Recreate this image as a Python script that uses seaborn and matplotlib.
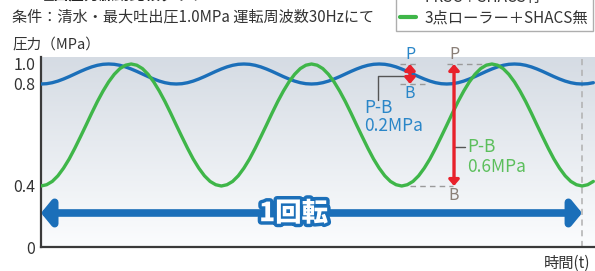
import numpy as np
import pandas as pd
import matplotlib.pyplot as plt
import matplotlib.patheffects as pe
from matplotlib.lines import Line2D
import seaborn as sns

# --- Data ---
# time axis in degrees of one rotation, sampled every 3.75 deg
angle = [i * 3.75 for i in range(99)]

# 3-roller + SHACS off: big swing 0.4 -> 1.0 MPa, 3 pulses per rotation
green_period = [0.400, 0.405, 0.418, 0.440, 0.470, 0.506, 0.548, 0.593,
                0.639, 0.686, 0.731, 0.772, 0.821, 0.897, 0.954, 0.988,
                1.000, 0.988, 0.954, 0.897, 0.821, 0.772, 0.731, 0.686,
                0.639, 0.593, 0.548, 0.506, 0.470, 0.440, 0.418, 0.405]
pressure_green = (green_period * 4)[:99]

# PRSC + SHACS on: small swing 0.8 -> 1.0 MPa, 4 pulses per rotation
blue_period = [0.800, 0.803, 0.813, 0.829, 0.850, 0.874, 0.900, 0.926,
               0.950, 0.971, 0.987, 0.997, 1.000, 0.997, 0.987, 0.971,
               0.950, 0.926, 0.900, 0.874, 0.850, 0.829, 0.813, 0.803]
pressure_blue = (blue_period * 5)[:99]

series_labels = ['PRSC＋SHACS有', '3点ローラー＋SHACS無']
ytick_values = [0, 0.4, 0.8, 1.0]
ytick_labels = ['0', '0.4', '0.8', '1.0']

df = pd.DataFrame({
    'angle': angle * 2,
    'pressure': pressure_blue + pressure_green,
    'series': [series_labels[0]] * 99 + [series_labels[1]] * 99,
})

BLUE = '#1b6fb9'
GREEN = '#3fb649'
RED = '#e8212b'
GREY = '#9a9a9a'
TXT = '#333333'
LBLUE = '#2a86c8'

sns.set_style('white')
plt.rcParams['font.family'] = ['Noto Sans CJK JP', 'DejaVu Sans']

fig = plt.figure(figsize=(5.95, 2.71), dpi=100)
ax = fig.add_axes([41 / 595, 24 / 271, 554 / 595, 190 / 271])


# broken (piecewise linear) pressure axis as drawn in the brochure
def fwd(v):
    v = np.asarray(v, dtype=float)
    return np.where(v < 0.4, v / 0.4 * 61,
                    np.where(v < 0.8, 61 + (v - 0.4) / 0.4 * 102,
                             163 + (v - 0.8) / 0.2 * 20))


def inv(p):
    p = np.asarray(p, dtype=float)
    return np.where(p < 61, p / 61 * 0.4,
                    np.where(p < 163, 0.4 + (p - 61) / 102 * 0.4,
                             0.8 + (p - 163) / 20 * 0.2))


ax.set_yscale('function', functions=(fwd, inv))

# background gradient
grad = np.linspace(0, 1, 256).reshape(-1, 1)
top = np.array([0.835, 0.860, 0.892])
bot = np.array([0.985, 0.99, 0.995])
img = bot + (top - bot) * grad
ax.imshow(img[:, None, :].repeat(2, axis=1), extent=[0, 1, 0, 1],
          transform=ax.transAxes, aspect='auto', origin='lower', zorder=0)

sns.lineplot(data=df, x='angle', y='pressure', hue='series',
             palette=[BLUE, GREEN], linewidth=2.4, legend=False, ax=ax,
             zorder=3)

ax.set_xlim(0, 368.6)
ax.set_ylim(0, 1.07)
ax.set_yticks(ytick_values)
ax.set_yticklabels(ytick_labels)
ax.set_xticks([])
ax.set_xlabel('')
ax.set_ylabel('')
ax.tick_params(axis='y', length=0, pad=4, labelsize=11.5, labelcolor=TXT)
for s in ['top', 'right']:
    ax.spines[s].set_visible(False)
for s in ['left', 'bottom']:
    ax.spines[s].set_color('#3a3a3a')
    ax.spines[s].set_linewidth(1.6)

# one rotation marker
ax.axvline(360, color='#b0b0b0', ls=(0, (4, 3)), lw=1.1, zorder=2)
ax.annotate('', xy=(360, 0.223), xytext=(0, 0.223),
            arrowprops=dict(arrowstyle='<|-|>,head_length=0.45,head_width=0.55',
                            color=BLUE, lw=5.5, shrinkA=0, shrinkB=0,
                            mutation_scale=14), zorder=4)
ax.text(168, 0.223, '1回転', ha='center', va='center', fontsize=19,
        fontweight='heavy', color='white', zorder=5,
        path_effects=[pe.withStroke(linewidth=5, foreground=BLUE)])

dash = dict(color=GREY, ls=(0, (4, 3)), lw=1.0, zorder=2)

# P-B for blue series
ax.plot([239, 250], [1.0, 1.0], **dash)
ax.plot([239, 257], [0.8, 0.8], **dash)
ax.annotate('', xy=(245.5, 1.0), xytext=(245.5, 0.8),
            arrowprops=dict(arrowstyle='<|-|>,head_length=0.35,head_width=0.3',
                            color=RED, lw=2.4, shrinkA=0, shrinkB=0,
                            mutation_scale=10), zorder=6)
ax.plot([245.5, 224, 224], [0.88, 0.88, 0.737], color='#555555', lw=1.0, zorder=5)
ax.annotate('P', xy=(245.5, 1.0), xytext=(0, 7), textcoords='offset points',
            ha='center', va='center', fontsize=11.5, color=LBLUE)
ax.annotate('B', xy=(245.5, 0.8), xytext=(0, -7), textcoords='offset points',
            ha='center', va='center', fontsize=11.5, color=LBLUE)
ax.text(215, 0.706, 'P-B', ha='left', va='center', fontsize=12.5, color=LBLUE)
ax.text(215, 0.636, '0.2MPa', ha='left', va='center', fontsize=12.5, color=LBLUE)

# P-B for green series
ax.plot([270, 299], [1.0, 1.0], **dash)
ax.plot([245.5, 274], [0.4, 0.4], **dash)
ax.annotate('', xy=(274.8, 1.0), xytext=(274.8, 0.4),
            arrowprops=dict(arrowstyle='<|-|>,head_length=0.35,head_width=0.3',
                            color=RED, lw=2.4, shrinkA=0, shrinkB=0,
                            mutation_scale=10), zorder=6)
ax.plot([274.8, 282], [0.553, 0.553], color='#555555', lw=1.0, zorder=5)
ax.annotate('P', xy=(274.8, 1.0), xytext=(0, 7), textcoords='offset points',
            ha='center', va='center', fontsize=11.5, color='#8a7f77')
ax.annotate('B', xy=(274.8, 0.4), xytext=(0, -7), textcoords='offset points',
            ha='center', va='center', fontsize=11.5, color='#8a7f77')
ax.text(283.5, 0.553, 'P-B', ha='left', va='center', fontsize=12.5, color='#5cbf5c')
ax.text(283.5, 0.475, '0.6MPa', ha='left', va='center', fontsize=12.5, color='#5cbf5c')

# header texts (title is cut by the top edge in the reference)
fig.text(12 / 595, 1 - 3 / 271, '■', color=BLUE, fontsize=11, va='bottom')
fig.text(38 / 595, 1 - 3 / 271, '吐出圧力脈動比較グラフ', color='#222222',
         fontsize=11, fontweight='bold', va='bottom')
fig.text(12 / 595, 1 - 17 / 271, '条件：清水・最大吐出圧1.0MPa 運転周波数30Hzにて',
         fontsize=10.9, color=TXT, va='center')
fig.text(12 / 595, 1 - 45 / 271, '圧力（MPa）', fontsize=10.5, color=TXT, va='center')
fig.text(590 / 595, 1 - 263 / 271, '時間(t)', fontsize=11, color=TXT,
         va='center', ha='right')

handles = [Line2D([], [], color=BLUE, lw=3), Line2D([], [], color=GREEN, lw=3)]
leg = fig.legend(handles, series_labels, loc='lower right',
                 bbox_to_anchor=(593 / 595, 1 - 31 / 271), fontsize=11,
                 frameon=True, fancybox=False, edgecolor='#9a9a9a',
                 handlelength=1.0, handletextpad=0.6, borderpad=0.3,
                 labelspacing=0.25, borderaxespad=0)
leg.get_frame().set_linewidth(1.0)
for t in leg.get_texts():
    t.set_color(TXT)

fig.savefig('out.png', dpi=100)
